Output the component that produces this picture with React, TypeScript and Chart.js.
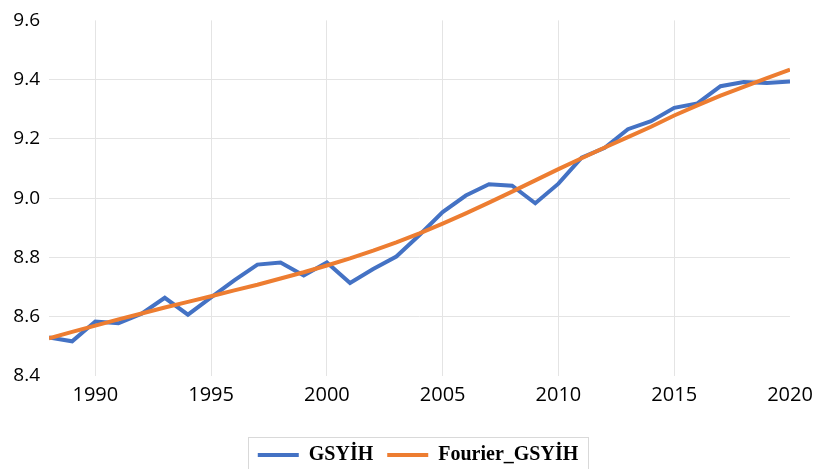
import React, { useEffect, useRef } from "react";
import { Chart, registerables } from "chart.js";

Chart.register(...registerables);

const years = [
  1988, 1989, 1990, 1991, 1992, 1993, 1994, 1995, 1996, 1997, 1998, 1999, 2000,
  2001, 2002, 2003, 2004, 2005, 2006, 2007, 2008, 2009, 2010, 2011, 2012, 2013,
  2014, 2015, 2016, 2017, 2018, 2019, 2020,
];

const gsyih = [
  8.53, 8.517, 8.584, 8.578, 8.61, 8.664, 8.607, 8.665, 8.723, 8.776, 8.783,
  8.739, 8.783, 8.714, 8.761, 8.803, 8.876, 8.953, 9.009, 9.047, 9.042, 8.983,
  9.049, 9.137, 9.17, 9.233, 9.26, 9.305, 9.32, 9.378, 9.392, 9.389, 9.394,
];

const fourierGsyih = [
  8.527, 8.549, 8.57, 8.591, 8.611, 8.631, 8.65, 8.669, 8.689, 8.708, 8.729,
  8.75, 8.773, 8.797, 8.823, 8.851, 8.881, 8.914, 8.949, 8.985, 9.022, 9.06,
  9.098, 9.135, 9.171, 9.206, 9.241, 9.279, 9.313, 9.346, 9.376, 9.405, 9.434,
];

const xTicks = [1990, 1995, 2000, 2005, 2010, 2015, 2020];
const seriesNames = ["GSYİH", "Fourier_GSYİH"];
const seriesColors = ["#4472C4", "#ED7D31"];

const legendShift = {
  id: "legendShift",
  afterLayout(chart: any) {
    const lg = chart.legend;
    if (!lg) return;
    const dx = 23;
    const dy = 6;
    lg.left += dx;
    lg.right += dx;
    lg.top += dy;
    lg.bottom += dy;
  },
};

const legendBorder = {
  id: "legendBorder",
  afterDraw(chart: any) {
    const lg = chart.legend;
    if (!lg || !lg.legendHitBoxes || !lg.legendHitBoxes.length) return;
    const boxes = lg.legendHitBoxes;
    const first = boxes[0];
    const last = boxes[boxes.length - 1];
    const cy = first.top + first.height / 2;
    const ctx = chart.ctx;
    ctx.save();
    ctx.strokeStyle = "#d9d9d9";
    ctx.lineWidth = 1;
    const l = Math.round(first.left - 10) + 0.5;
    const r = Math.round(last.left + last.width + 10) + 0.5;
    const t = Math.round(cy - 18) + 0.5;
    const b = Math.round(cy + 16) + 0.5;
    ctx.strokeRect(l, t, r - l, b - t);
    ctx.restore();
  },
};

export default function App() {
  const ref = useRef<HTMLCanvasElement | null>(null);

  useEffect(() => {
    if (!ref.current) return;
    const chart = new Chart(ref.current, {
      type: "line",
      data: {
        datasets: [
          {
            label: seriesNames[0],
            data: years.map((y, i) => ({ x: y, y: gsyih[i] })),
            borderColor: seriesColors[0],
            backgroundColor: seriesColors[0],
            borderWidth: 4,
            pointRadius: 0,
            tension: 0,
            order: 1,
          },
          {
            label: seriesNames[1],
            data: years.map((y, i) => ({ x: y, y: fourierGsyih[i] })),
            borderColor: seriesColors[1],
            backgroundColor: seriesColors[1],
            borderWidth: 4,
            pointRadius: 0,
            tension: 0,
            order: 0,
          },
        ],
      },
      options: {
        animation: false,
        responsive: false,
        layout: { padding: { left: 0, right: 30, top: 12, bottom: 0 } },
        plugins: {
          tooltip: { enabled: false },
          legend: {
            position: "bottom",
            labels: {
              boxWidth: 41,
              boxHeight: 4,
              padding: 14,
              color: "#000",
              font: { family: "'Liberation Serif', serif", size: 20, weight: "bold" },
              generateLabels: (c: any) =>
                c.data.datasets.map((ds: any, i: number) => ({
                  text: ds.label,
                  fillStyle: ds.borderColor,
                  strokeStyle: ds.borderColor,
                  lineWidth: 0,
                  hidden: false,
                  datasetIndex: i,
                  fontColor: "#000",
                })),
            },
          },
        },
        scales: {
          x: {
            type: "linear",
            min: 1988,
            max: 2020,
            afterBuildTicks: (axis: any) => {
              axis.ticks = xTicks.map((v) => ({ value: v }));
            },
            afterFit: (axis: any) => {
              axis.height = 49;
            },
            ticks: {
              autoSkip: false,
              maxRotation: 0,
              padding: 7,
              color: "#000",
              font: { family: "'Open Sans', sans-serif", size: 20 },
              callback: (v: any) => String(v),
            },
            grid: {
              drawTicks: false,
              color: (ctx: any) =>
                ctx.tick && ctx.tick.value === 2020 ? "rgba(0,0,0,0)" : "#e4e4e4",
              lineWidth: 1,
            },
            border: { display: false },
          },
          y: {
            min: 8.4,
            max: 9.6,
            afterFit: (axis: any) => {
              axis.width = 49;
            },
            ticks: {
              stepSize: 0.2,
              padding: 9,
              color: "#000",
              font: { family: "'Open Sans', sans-serif", size: 19 },
              callback: (v: any) => Number(v).toFixed(1),
            },
            grid: {
              drawTicks: false,
              color: (ctx: any) => {
                const v = ctx.tick ? ctx.tick.value : 0;
                return Math.abs(v - 8.4) < 1e-6 || Math.abs(v - 9.6) < 1e-6
                  ? "rgba(0,0,0,0)"
                  : "#e4e4e4";
              },
              lineWidth: 1,
            },
            border: { display: false },
          },
        },
      },
      plugins: [legendShift, legendBorder],
    });
    return () => chart.destroy();
  }, []);

  return (
    <div style={{ position: "fixed", left: 0, top: 0, width: 820, height: 469, background: "#fff" }}>
      <canvas ref={ref} width={820} height={469} style={{ display: "block" }} />
    </div>
  );
}
